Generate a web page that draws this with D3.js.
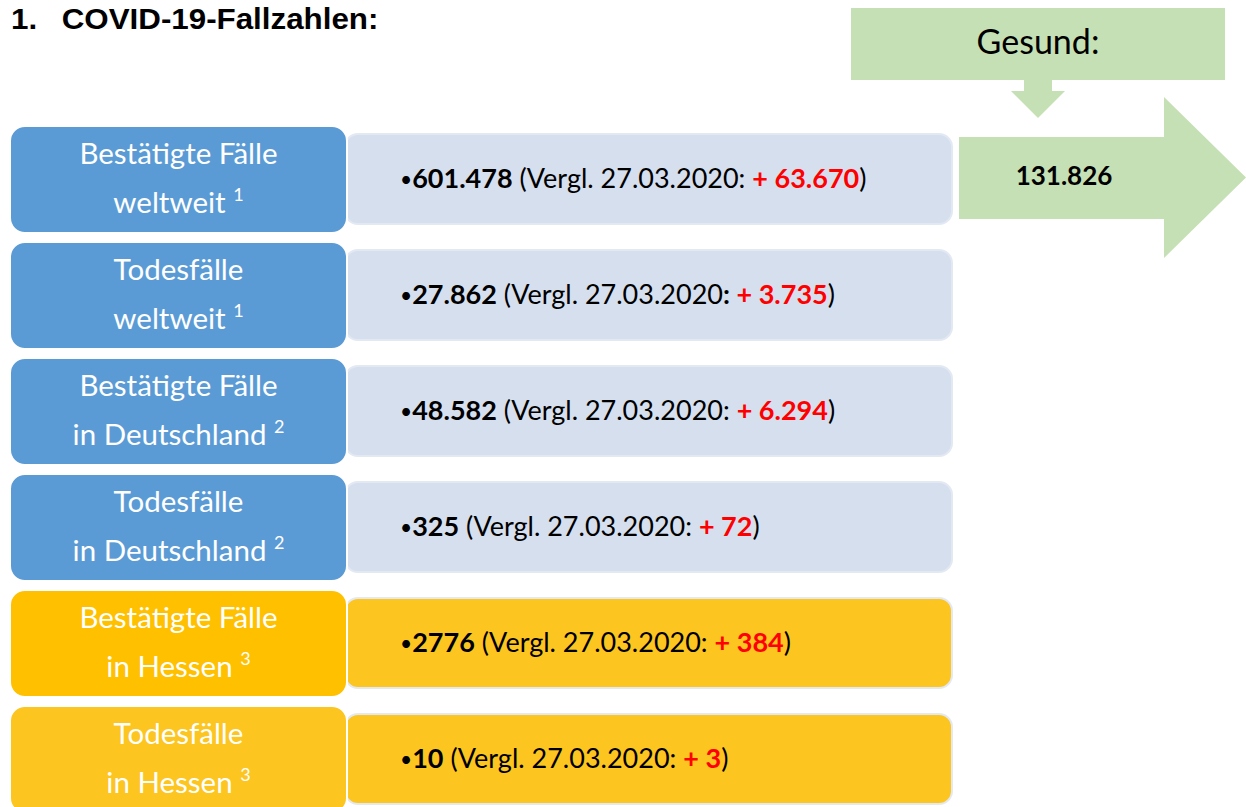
<!DOCTYPE html>
<html>
<head>
<meta charset="utf-8">
<script src="https://cdn.jsdelivr.net/npm/d3@7"></script>
<style>
  html, body { margin: 0; padding: 0; background: #fff; overflow: hidden; }
  #svg-container { width: 1246px; height: 807px; }
  text { font-family: Lato, "Open Sans", sans-serif; }
  text.title { font-family: "Liberation Sans", Arial, sans-serif; font-weight: bold; font-size: 29px; }
</style>
</head>
<body>
<div id="svg-container"></div>
<script>
// Data
const titleNumber = "1.";
const titleText = "COVID-19-Fallzahlen:";
const labelLine1 = ["Bestätigte Fälle", "Todesfälle", "Bestätigte Fälle", "Todesfälle", "Bestätigte Fälle", "Todesfälle"];
const labelLine2 = ["weltweit", "weltweit", "in Deutschland", "in Deutschland", "in Hessen", "in Hessen"];
const sources = ["1", "1", "2", "2", "3", "3"];
const region = ["world", "world", "germany", "germany", "hesse", "hesse"];
const totals = ["601.478", "27.862", "48.582", "325", "2776", "10"];
const deltas = ["63.670", "3.735", "6.294", "72", "384", "3"];
const boldColon = [false, true, false, false, false, false];
const compareDate = "27.03.2020";
const recoveredLabel = "Gesund:";
const recovered = "131.826";

const width = 1246, height = 807;
const svg = d3.select("#svg-container").append("svg")
  .attr("width", width).attr("height", height);

// colours per row (left label box) and region (right value box)
const leftColor = d3.scaleOrdinal().domain(d3.range(6))
  .range(["#5b9bd5", "#5b9bd5", "#5b9bd5", "#5b9bd5", "#ffc000", "#fdc51f"]);
const rightColor = d3.scaleOrdinal().domain(["world", "germany", "hesse"])
  .range(["#d5dfee", "#d5dfee", "#fdc51f"]);

// row layout
const yRow = d3.scaleBand().domain(d3.range(6)).range([126, 813]).paddingInner(9 / 116);
const leftX = 10, leftW = 337;
const rightX = 345, rightW = 607, rightOff = 8, rightH = 90;

// title
const title = svg.append("g")
  .attr("transform", "translate(11,29) scale(1.08,1)");
title.append("text").attr("class", "title").attr("x", 0).text(titleNumber);
title.append("text").attr("class", "title").attr("x", 47).text(titleText);

const rows = svg.selectAll(".row").data(d3.range(6)).enter()
  .append("g").attr("class", "row");

// right value boxes (drawn first, tucked under label boxes)
rows.append("rect")
  .attr("x", rightX)
  .attr("y", (i) => yRow(i) + rightOff)
  .attr("width", rightW)
  .attr("height", rightH)
  .attr("rx", 13)
  .attr("fill", (i) => rightColor(region[i]))
  .attr("stroke", "#e3e9f3")
  .attr("stroke-width", 2);

// left label boxes
rows.append("rect")
  .attr("x", leftX)
  .attr("y", (i) => yRow(i))
  .attr("width", leftW)
  .attr("height", yRow.bandwidth())
  .attr("rx", 15)
  .attr("fill", (i) => leftColor(i))
  .attr("stroke", "#fff")
  .attr("stroke-width", 2);

const cx = leftX + leftW / 2;
rows.append("text")
  .attr("x", cx)
  .attr("y", (i) => yRow(i) + 38)
  .attr("text-anchor", "middle")
  .attr("fill", "#fff")
  .style("font-size", "29.5px")
  .text((i) => labelLine1[i]);

const l2 = rows.append("text")
  .attr("x", cx)
  .attr("y", (i) => yRow(i) + 87)
  .attr("text-anchor", "middle")
  .attr("fill", "#fff")
  .style("font-size", "29.5px");
l2.append("tspan").text((i) => labelLine2[i] + " ");
l2.append("tspan")
  .attr("dy", -12)
  .style("font-size", "18px")
  .text((i) => sources[i]);

// value line
const vt = rows.append("text")
  .attr("x", 400)
  .attr("y", (i) => yRow(i) + rightOff + 54)
  .attr("fill", "#000")
  .style("font-size", "27px");
vt.append("tspan").style("font-size", "21px").attr("dy", -1).text("•");
vt.append("tspan").attr("dy", 1).style("font-weight", "bold").text((i) => totals[i]);
vt.append("tspan").text((i) => " (Vergl. " + compareDate + (boldColon[i] ? "" : ": "));
vt.append("tspan").style("font-weight", "bold").text((i) => (boldColon[i] ? ": " : ""));
vt.append("tspan").style("font-weight", "bold").attr("fill", "#ff0000").text((i) => "+ " + deltas[i]);
vt.append("tspan").text(")");

// "Gesund" header box and arrows
const green = "#c5e0b4";
svg.append("rect")
  .attr("x", 851).attr("y", 8)
  .attr("width", 374).attr("height", 72)
  .attr("fill", green);
svg.append("text")
  .attr("x", 1038).attr("y", 54)
  .attr("text-anchor", "middle")
  .style("font-size", "34px")
  .attr("fill", "#000")
  .text(recoveredLabel);

// small down arrow
const down = d3.path();
down.moveTo(1024, 80); down.lineTo(1052, 80); down.lineTo(1052, 91);
down.lineTo(1065, 91); down.lineTo(1038, 118); down.lineTo(1011, 91);
down.lineTo(1024, 91); down.closePath();
svg.append("path").attr("d", down.toString()).attr("fill", green);

// block arrow to the right
const right = d3.path();
right.moveTo(959, 137); right.lineTo(1164, 137); right.lineTo(1164, 97);
right.lineTo(1246, 177.5); right.lineTo(1164, 258); right.lineTo(1164, 219);
right.lineTo(959, 219); right.closePath();
svg.append("path").attr("d", right.toString()).attr("fill", green);

svg.append("text")
  .attr("x", 1064).attr("y", 185)
  .attr("text-anchor", "middle")
  .style("font-size", "26px")
  .style("font-weight", "bold")
  .attr("fill", "#000")
  .text(recovered);
</script>
</body>
</html>
